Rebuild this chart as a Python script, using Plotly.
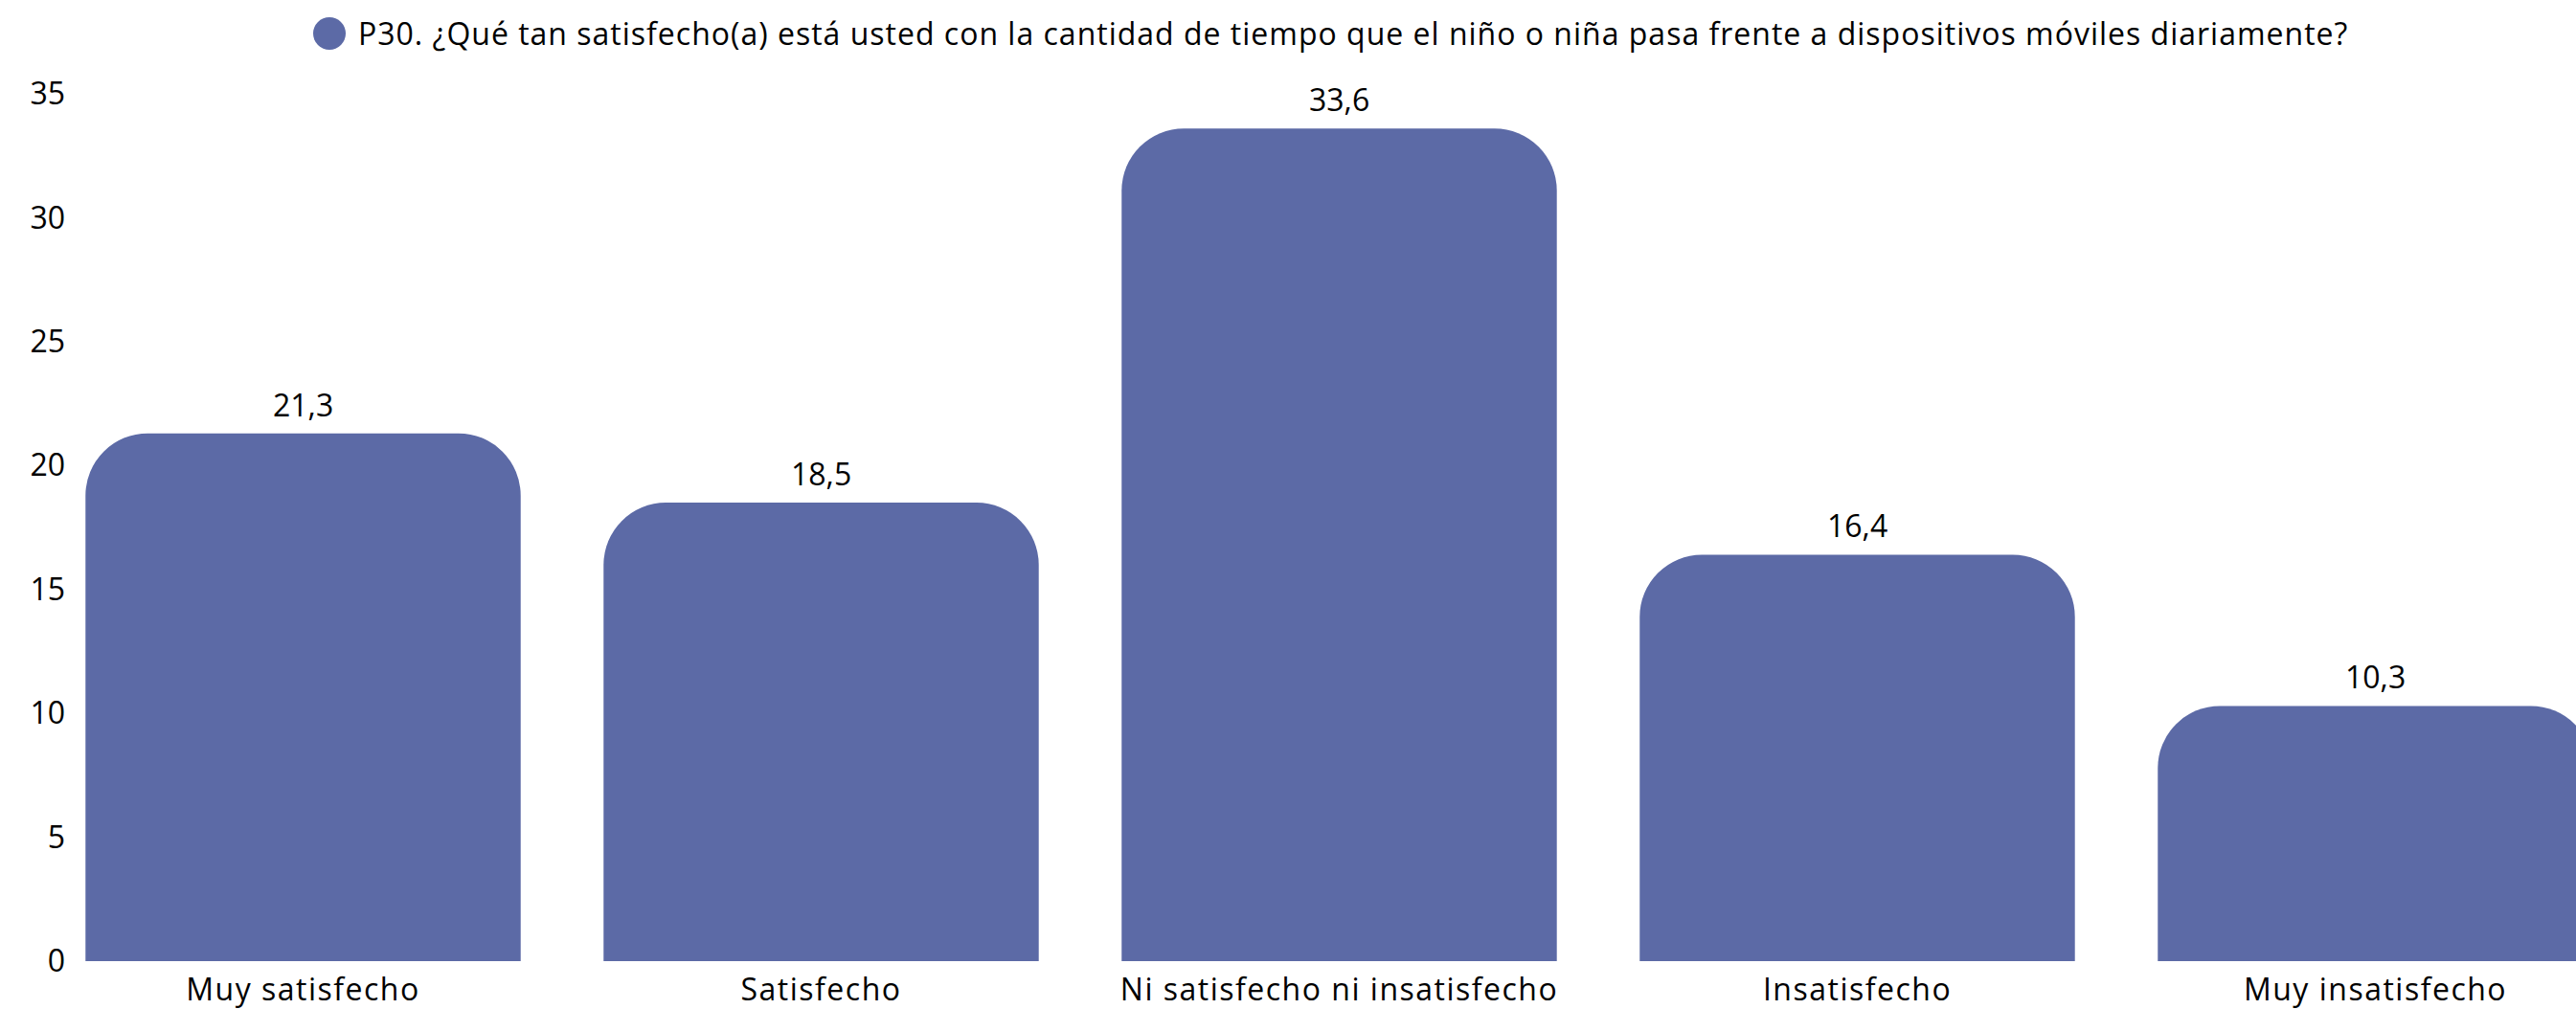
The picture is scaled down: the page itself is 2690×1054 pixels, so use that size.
import plotly.graph_objects as go

categories = ["Muy satisfecho", "Satisfecho", "Ni satisfecho ni insatisfecho", "Insatisfecho", "Muy insatisfecho"]
values = [21.3, 18.5, 33.6, 16.4, 10.3]
y_ticks = [0, 5, 10, 15, 20, 25, 30, 35]
series_name = "P30. ¿Qué tan satisfecho(a) está usted con la cantidad de tiempo que el niño o niña pasa frente a dispositivos móviles diariamente?"

BAR_COLOR = "#5c6aa6"
FONT = "'Open Sans', 'Noto Sans', sans-serif"
FS = 32

W, H = 2690, 1054
L, R, T, B = 75, 0, 98, 50
plot_w = W - L - R
plot_h = H - T - B
cat_w = 541.0
first_center = 316.5
x_left = (L - first_center) / cat_w
x_right = (W - R - first_center) / cat_w

xs = list(range(len(categories)))


def spaced(s, px):
    return f"<span style='letter-spacing:{px}px'>{s}</span>"


fig = go.Figure()
fig.add_trace(go.Bar(
    x=xs,
    y=values,
    marker=dict(color=BAR_COLOR, cornerradius=65, line=dict(width=0)),
    cliponaxis=True,
    showlegend=False,
    hoverinfo="skip",
))

# value labels
for xi, v in zip(xs, values):
    fig.add_annotation(x=xi, y=v, xref="x", yref="y",
                       text=f"{v:.1f}".replace(".", ","),
                       showarrow=False, xanchor="center", yanchor="bottom",
                       yshift=7, font=dict(size=FS, color="#000000", family=FONT))

# legend-like header
cx_paper = (344 - L) / plot_w
cy_paper = (H - B - 35) / plot_h
fig.add_shape(type="circle", xref="paper", yref="paper",
              xsizemode="pixel", ysizemode="pixel",
              xanchor=cx_paper, yanchor=cy_paper,
              x0=-17, x1=17, y0=-17, y1=17,
              fillcolor=BAR_COLOR, line=dict(width=0))
fig.add_annotation(xref="paper", yref="paper", x=(372 - L) / plot_w, y=cy_paper,
                   xanchor="left", yanchor="middle", showarrow=False,
                   text=spaced(series_name, 1.0),
                   font=dict(size=FS, color="#000000", family=FONT))

fig.update_layout(
    width=W, height=H,
    margin=dict(l=L, r=R, t=T, b=B, pad=0),
    plot_bgcolor="white", paper_bgcolor="white",
    separators=",.",
    bargap=0.16,
    font=dict(family=FONT, size=FS, color="#000000"),
    xaxis=dict(
        range=[x_left, x_right],
        tickmode="array",
        tickvals=xs,
        ticktext=[spaced(c, 1.5) for c in categories],
        showgrid=False, zeroline=False, showline=False,
        ticks="", ticklabelstandoff=8,
        tickfont=dict(size=FS, color="#000000"),
    ),
    yaxis=dict(
        range=[0, 35],
        tickmode="array",
        tickvals=y_ticks,
        showgrid=False, zeroline=False, showline=False,
        ticks="", ticklen=0, ticklabelstandoff=6,
        tickfont=dict(size=FS, color="#000000"),
    ),
)

fig.write_html("out.html", config={"displayModeBar": False},
               post_script="document.body.style.margin='0';document.body.style.overflow='hidden';")
